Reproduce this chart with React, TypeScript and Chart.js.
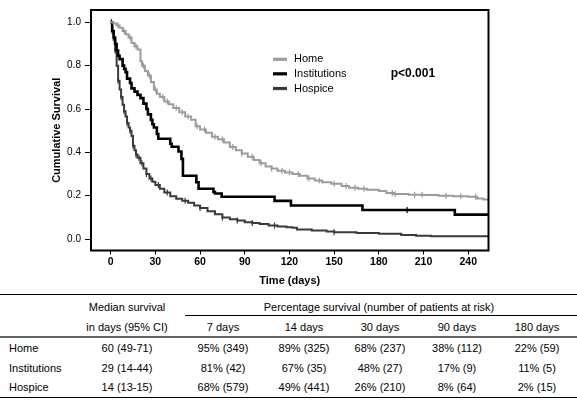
import React, { useEffect, useRef } from 'react';
import { Chart, registerables } from 'chart.js';

Chart.register(...registerables);

// ---------- chart data ----------
const xTicks = [0, 30, 60, 90, 120, 150, 180, 210, 240];
const yTicks = [0, 0.2, 0.4, 0.6, 0.8, 1.0];

const seriesNames = ['Home', 'Institutions', 'Hospice'];
const seriesColors = ['#9c9c9c', '#000000', '#3a3a3a'];

const homeTime = [0, 2, 4, 6, 8, 10, 12, 14, 16, 18, 20, 21, 23, 25, 27, 29, 31, 33, 36, 39, 42, 46, 50, 54, 57, 60, 64, 68, 72, 76, 80, 84, 88, 92, 96, 100, 104, 108, 112, 117, 122, 127, 132, 137, 142, 148, 155, 160, 166, 172, 180, 185, 190, 200, 210, 220, 230, 240, 246, 250, 253.6];
const homeSurv = [1.0, 0.995, 0.985, 0.975, 0.96, 0.945, 0.93, 0.905, 0.89, 0.875, 0.82, 0.8, 0.775, 0.755, 0.725, 0.69, 0.67, 0.655, 0.635, 0.622, 0.605, 0.585, 0.565, 0.55, 0.52, 0.505, 0.49, 0.472, 0.46, 0.445, 0.425, 0.41, 0.395, 0.38, 0.365, 0.35, 0.335, 0.325, 0.315, 0.307, 0.3, 0.292, 0.28, 0.27, 0.262, 0.255, 0.245, 0.237, 0.232, 0.228, 0.222, 0.212, 0.208, 0.205, 0.203, 0.2, 0.198, 0.195, 0.187, 0.182, 0.18];

const instTime = [0, 1, 2, 3, 4, 5, 6, 8, 9, 10, 11, 13, 14, 16, 18, 20, 22, 24, 25, 27, 28, 29, 31, 32, 40, 41, 45.5, 47.5, 48.5, 57.5, 59, 69, 70, 74.5, 110, 121, 169, 231, 253.6];
const instSurv = [1.0, 0.96, 0.93, 0.9, 0.87, 0.845, 0.83, 0.8, 0.785, 0.77, 0.74, 0.72, 0.695, 0.68, 0.665, 0.65, 0.625, 0.6, 0.575, 0.55, 0.53, 0.515, 0.485, 0.463, 0.44, 0.426, 0.404, 0.37, 0.292, 0.262, 0.232, 0.217, 0.21, 0.195, 0.176, 0.155, 0.134, 0.113, 0.113];

const hospTime = [0, 1, 2, 3, 4, 5, 6, 7, 8, 9, 10, 11, 12, 13, 14, 15, 16, 17, 18, 20, 22, 24, 26, 28, 30, 33, 36, 40, 44, 48, 52, 56, 60, 65, 70, 75, 80, 85, 90, 95, 100, 106, 112, 118, 122, 125, 135, 145, 150, 165, 180, 195, 205, 215, 253.6];
const hospSurv = [1.0, 0.96, 0.92, 0.87, 0.8, 0.73, 0.69, 0.655, 0.62, 0.59, 0.565, 0.535, 0.515, 0.5, 0.475, 0.43, 0.41, 0.39, 0.375, 0.35, 0.325, 0.3, 0.28, 0.265, 0.25, 0.232, 0.215, 0.198, 0.186, 0.177, 0.167, 0.155, 0.143, 0.128, 0.115, 0.1, 0.092, 0.086, 0.078, 0.074, 0.069, 0.063, 0.058, 0.054, 0.052, 0.044, 0.04, 0.035, 0.032, 0.028, 0.024, 0.019, 0.015, 0.013, 0.013];

const homeCensor = [5, 9, 13, 17, 22, 26, 30, 35, 38, 44, 48, 52, 58, 63, 70, 75, 82, 88, 95, 101, 108, 115, 120, 126, 133, 140, 150, 158, 164, 170, 189, 191, 204, 209, 225, 235, 245];
const instCensor = [0.5, 199];
const hospCensor = [1, 3, 5, 7, 9, 11, 13, 15, 17, 19, 21, 24, 27, 32, 38, 50, 60, 75, 85, 95, 110, 150];

// ---------- table data ----------
const tableRows = ['Home', 'Institutions', 'Hospice'];
const medianSurvival = ['60 (49-71)', '29 (14-44)', '14 (13-15)'];
const timepoints = ['7 days', '14 days', '30 days', '90 days', '180 days'];
const homePct = ['95% (349)', '89% (325)', '68% (237)', '38% (112)', '22% (59)'];
const instPct = ['81% (42)', '67% (35)', '48% (27)', '17% (9)', '11% (5)'];
const hospPct = ['68% (579)', '49% (441)', '26% (210)', '8% (64)', '2% (15)'];

const FONT = "'Liberation Sans', Arial, Helvetica, sans-serif";

function survAt(times: number[], surv: number[], t: number) {
  let s = surv[0];
  for (let i = 0; i < times.length; i++) if (times[i] <= t) s = surv[i];
  return s;
}

const curves = [
  { time: homeTime, surv: homeSurv, censor: homeCensor, width: 2 },
  { time: instTime, surv: instSurv, censor: instCensor, width: 2.6 },
  { time: hospTime, surv: hospSurv, censor: hospCensor, width: 2 },
];

const framePlugin = {
  id: 'frameLegend',
  afterDraw(chart: any) {
    const { ctx, chartArea } = chart;
    ctx.save();
    ctx.strokeStyle = '#000';
    ctx.lineWidth = 2;
    ctx.strokeRect(chartArea.left, chartArea.top, chartArea.right - chartArea.left, chartArea.bottom - chartArea.top);
    // legend
    const ys = [59.3, 73.8, 88.5];
    ctx.font = `11px ${FONT}`;
    ctx.textBaseline = 'middle';
    ctx.textAlign = 'left';
    seriesNames.forEach((n, i) => {
      ctx.strokeStyle = seriesColors[i];
      ctx.lineWidth = 3.2;
      ctx.beginPath();
      ctx.moveTo(273, ys[i]);
      ctx.lineTo(287, ys[i]);
      ctx.stroke();
      ctx.fillStyle = '#000';
      ctx.fillText(n, 294, ys[i]);
    });
    ctx.font = `bold 12px ${FONT}`;
    ctx.fillText('p<0.001', 390.7, 73.8);
    ctx.restore();
  },
};

function SurvivalChart() {
  const ref = useRef<HTMLCanvasElement | null>(null);
  useEffect(() => {
    if (!ref.current) return;
    const datasets: any[] = [];
    [2, 1, 0].forEach((k) => {
      const c = curves[k];
      datasets.push({
        label: seriesNames[k],
        data: c.time.map((t, i) => ({ x: t, y: c.surv[i] })),
        stepped: 'before',
        borderColor: seriesColors[k],
        borderWidth: c.width,
        pointRadius: 0,
        fill: false,
        order: k,
      });
      datasets.push({
        label: seriesNames[k] + ' censored',
        data: c.censor.map((t) => ({ x: t, y: survAt(c.time, c.surv, t) })),
        showLine: false,
        pointStyle: 'line',
        rotation: 90,
        pointRadius: 3,
        borderColor: seriesColors[k],
        backgroundColor: seriesColors[k],
        borderWidth: 1.2,
        order: k,
      });
    });
    const chart = new Chart(ref.current, {
      type: 'line',
      data: { datasets },
      options: {
        responsive: false,
        animation: false,
        devicePixelRatio: 1,
        layout: { padding: { left: 50.4, right: 88.5, top: 2, bottom: 0 } },
        plugins: { legend: { display: false }, tooltip: { enabled: false } },
        scales: {
          x: {
            type: 'linear',
            min: -13.2,
            max: 253.6,
            afterBuildTicks: (s: any) => { s.ticks = xTicks.map((v) => ({ value: v })); },
            afterFit: (s: any) => { s.height = 39.5; },
            grid: { drawOnChartArea: false, drawTicks: true, tickLength: 4, color: '#000', lineWidth: 1 },
            border: { display: false },
            ticks: { font: { family: FONT, size: 10.5, weight: 'bold' }, color: '#000', padding: 1, maxRotation: 0, autoSkip: false },
            title: { display: true, text: 'Time (days)', font: { family: FONT, size: 11, weight: 'bold' }, color: '#000', padding: { top: 0, bottom: 2.7 } },
          },
          y: {
            type: 'linear',
            min: -0.0527,
            max: 1.0567,
            afterBuildTicks: (s: any) => { s.ticks = yTicks.map((v) => ({ value: v })); },
            afterFit: (s: any) => { s.width = 40.6; },
            grid: { drawOnChartArea: false, drawTicks: true, tickLength: 6, color: '#000', lineWidth: 1 },
            border: { display: false },
            ticks: { font: { family: FONT, size: 10 }, color: '#000', padding: 4, callback: (v: any) => Number(v).toFixed(1) },
            title: { display: true, text: 'Cumulative Survival', font: { family: FONT, size: 11, weight: 'bold' }, color: '#000', padding: { top: 0, bottom: 0 } },
          },
        },
      },
      plugins: [framePlugin],
    });
    return () => chart.destroy();
  }, []);
  return <canvas ref={ref} width={577} height={290} style={{ position: 'absolute', left: 0, top: 0, width: 577, height: 290 }} />;
}

function Cell({ cx, cy, text, align = 'center', w = 130 }: { cx: number; cy: number; text: string; align?: 'center' | 'left'; w?: number }) {
  const style: React.CSSProperties = {
    position: 'absolute',
    top: cy - 7,
    height: 14,
    lineHeight: '14px',
    fontSize: 11,
    fontFamily: FONT,
    color: '#000',
    whiteSpace: 'nowrap',
    textAlign: align,
    width: w,
    left: align === 'center' ? cx - w / 2 : cx,
  };
  return <div style={style}>{text}</div>;
}

function Line({ x1, x2, y, h, color }: { x1: number; x2: number; y: number; h: number; color: string }) {
  return <div style={{ position: 'absolute', left: x1, width: x2 - x1, top: y - h / 2, height: h, background: color }} />;
}

export default function App() {
  const colX = [223, 304, 380, 457, 537];
  const rowY = [347.7, 367.7, 386.7];
  const pctRows = [homePct, instPct, hospPct];
  return (
    <div style={{ position: 'absolute', left: 0, top: 0, width: 577, height: 400, background: '#fff', overflow: 'hidden' }}>
      <SurvivalChart />
      <Line x1={0} x2={577} y={294.3} h={1} color="#000" />
      <Line x1={185} x2={577} y={315.7} h={1} color="#000" />
      <Line x1={0} x2={577} y={336.7} h={2} color="#666" />
      <Line x1={0} x2={577} y={397.7} h={1.5} color="#000" />
      <Cell cx={127} cy={306.7} text="Median survival" />
      <Cell cx={127} cy={327.3} text="in days (95% CI)" />
      <Cell cx={379} cy={306.7} text="Percentage survival (number of patients at risk)" w={300} />
      {timepoints.map((t, i) => <Cell key={t} cx={colX[i]} cy={327.3} text={t} />)}
      {tableRows.map((r, j) => (
        <React.Fragment key={r}>
          <Cell cx={9} cy={rowY[j]} text={r} align="left" />
          <Cell cx={127} cy={rowY[j]} text={medianSurvival[j]} />
          {pctRows[j].map((v, i) => <Cell key={i} cx={colX[i]} cy={rowY[j]} text={v} />)}
        </React.Fragment>
      ))}
    </div>
  );
}
